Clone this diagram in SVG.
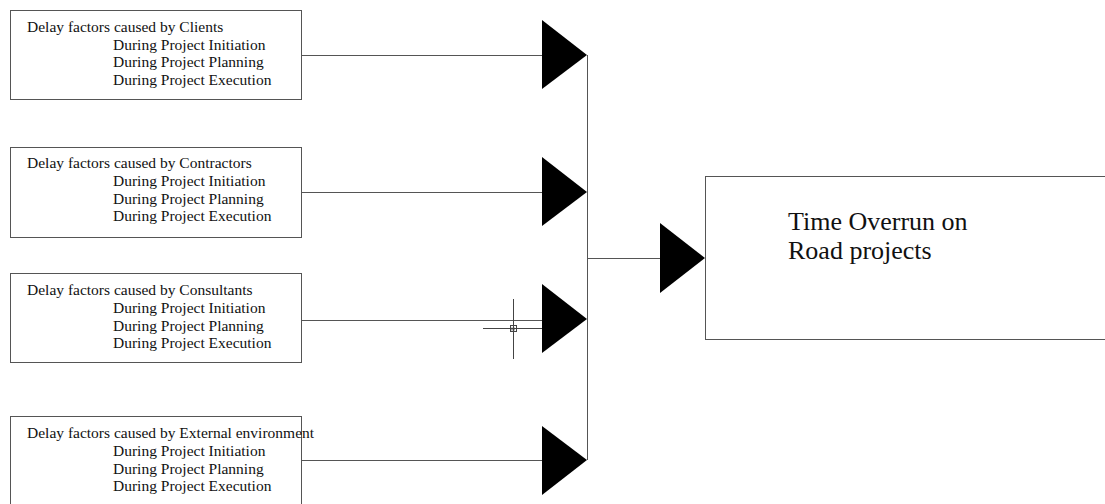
<svg xmlns="http://www.w3.org/2000/svg" width="1105" height="504" viewBox="0 0 1105 504">
<style>
.box{fill:#fff;stroke:#555;stroke-width:1}
.ln{stroke:#555;stroke-width:1;fill:none}
.tri{fill:#000}
.t{font-family:"Liberation Serif","Times New Roman",serif;font-size:15.5px;fill:#111}
.big{font-family:"Liberation Serif","Times New Roman",serif;font-size:26px;fill:#111}
.cur{stroke:#444;stroke-width:1;fill:none}
</style>
<rect width="1105" height="504" fill="#fff"/>
<g id="connectors">
<path class="ln" d="M301.5 55.5H542M301.5 192.5H542M301.5 320.5H542M301.5 460.5H542"/>
<path class="ln" d="M587.5 55V460M587 258.5H660"/>
<polygon class="tri" points="542,20 587,55 542,89"/>
<polygon class="tri" points="542,157 587,192 542,226"/>
<polygon class="tri" points="542,284 587,319 542,353"/>
<polygon class="tri" points="542,426 587,460 542,495"/>
<polygon class="tri" points="660,223 705,258 660,293"/>
</g>
<g id="n1">
<rect class="box" x="10.5" y="10.5" width="291" height="89"/>
<text class="t" x="27" y="32">Delay factors caused by Clients</text>
<text class="t" x="113" y="49.5">During Project Initiation</text>
<text class="t" x="113" y="67">During Project Planning</text>
<text class="t" x="113" y="84.5">During Project Execution</text>
</g>
<g id="n2">
<rect class="box" x="10.5" y="147.5" width="291" height="90"/>
<text class="t" x="27" y="168">Delay factors caused by Contractors</text>
<text class="t" x="113" y="186">During Project Initiation</text>
<text class="t" x="113" y="203.5">During Project Planning</text>
<text class="t" x="113" y="221">During Project Execution</text>
</g>
<g id="n3">
<rect class="box" x="10.5" y="273.5" width="291" height="89"/>
<text class="t" x="27" y="295">Delay factors caused by Consultants</text>
<text class="t" x="113" y="313">During Project Initiation</text>
<text class="t" x="113" y="330.5">During Project Planning</text>
<text class="t" x="113" y="348">During Project Execution</text>
</g>
<g id="n4">
<rect class="box" x="10.5" y="416.5" width="291" height="100"/>
<text class="t" x="27" y="438">Delay factors caused by External environment</text>
<text class="t" x="113" y="456">During Project Initiation</text>
<text class="t" x="113" y="473.5">During Project Planning</text>
<text class="t" x="113" y="491">During Project Execution</text>
</g>
<g id="n5">
<rect class="box" x="705.5" y="176.5" width="420" height="163"/>
<text class="big" x="788" y="230">Time Overrun on</text>
<text class="big" x="788" y="259">Road projects</text>
</g>
<g id="cursor">
<path class="cur" d="M483 328.5H542M513.5 299V359"/>
<rect class="cur" x="510.5" y="325.5" width="6" height="6"/>
<path class="cur" d="M512 327.5v3M514 327.5v3M511.5 328.5h4"/>
</g>
</svg>
